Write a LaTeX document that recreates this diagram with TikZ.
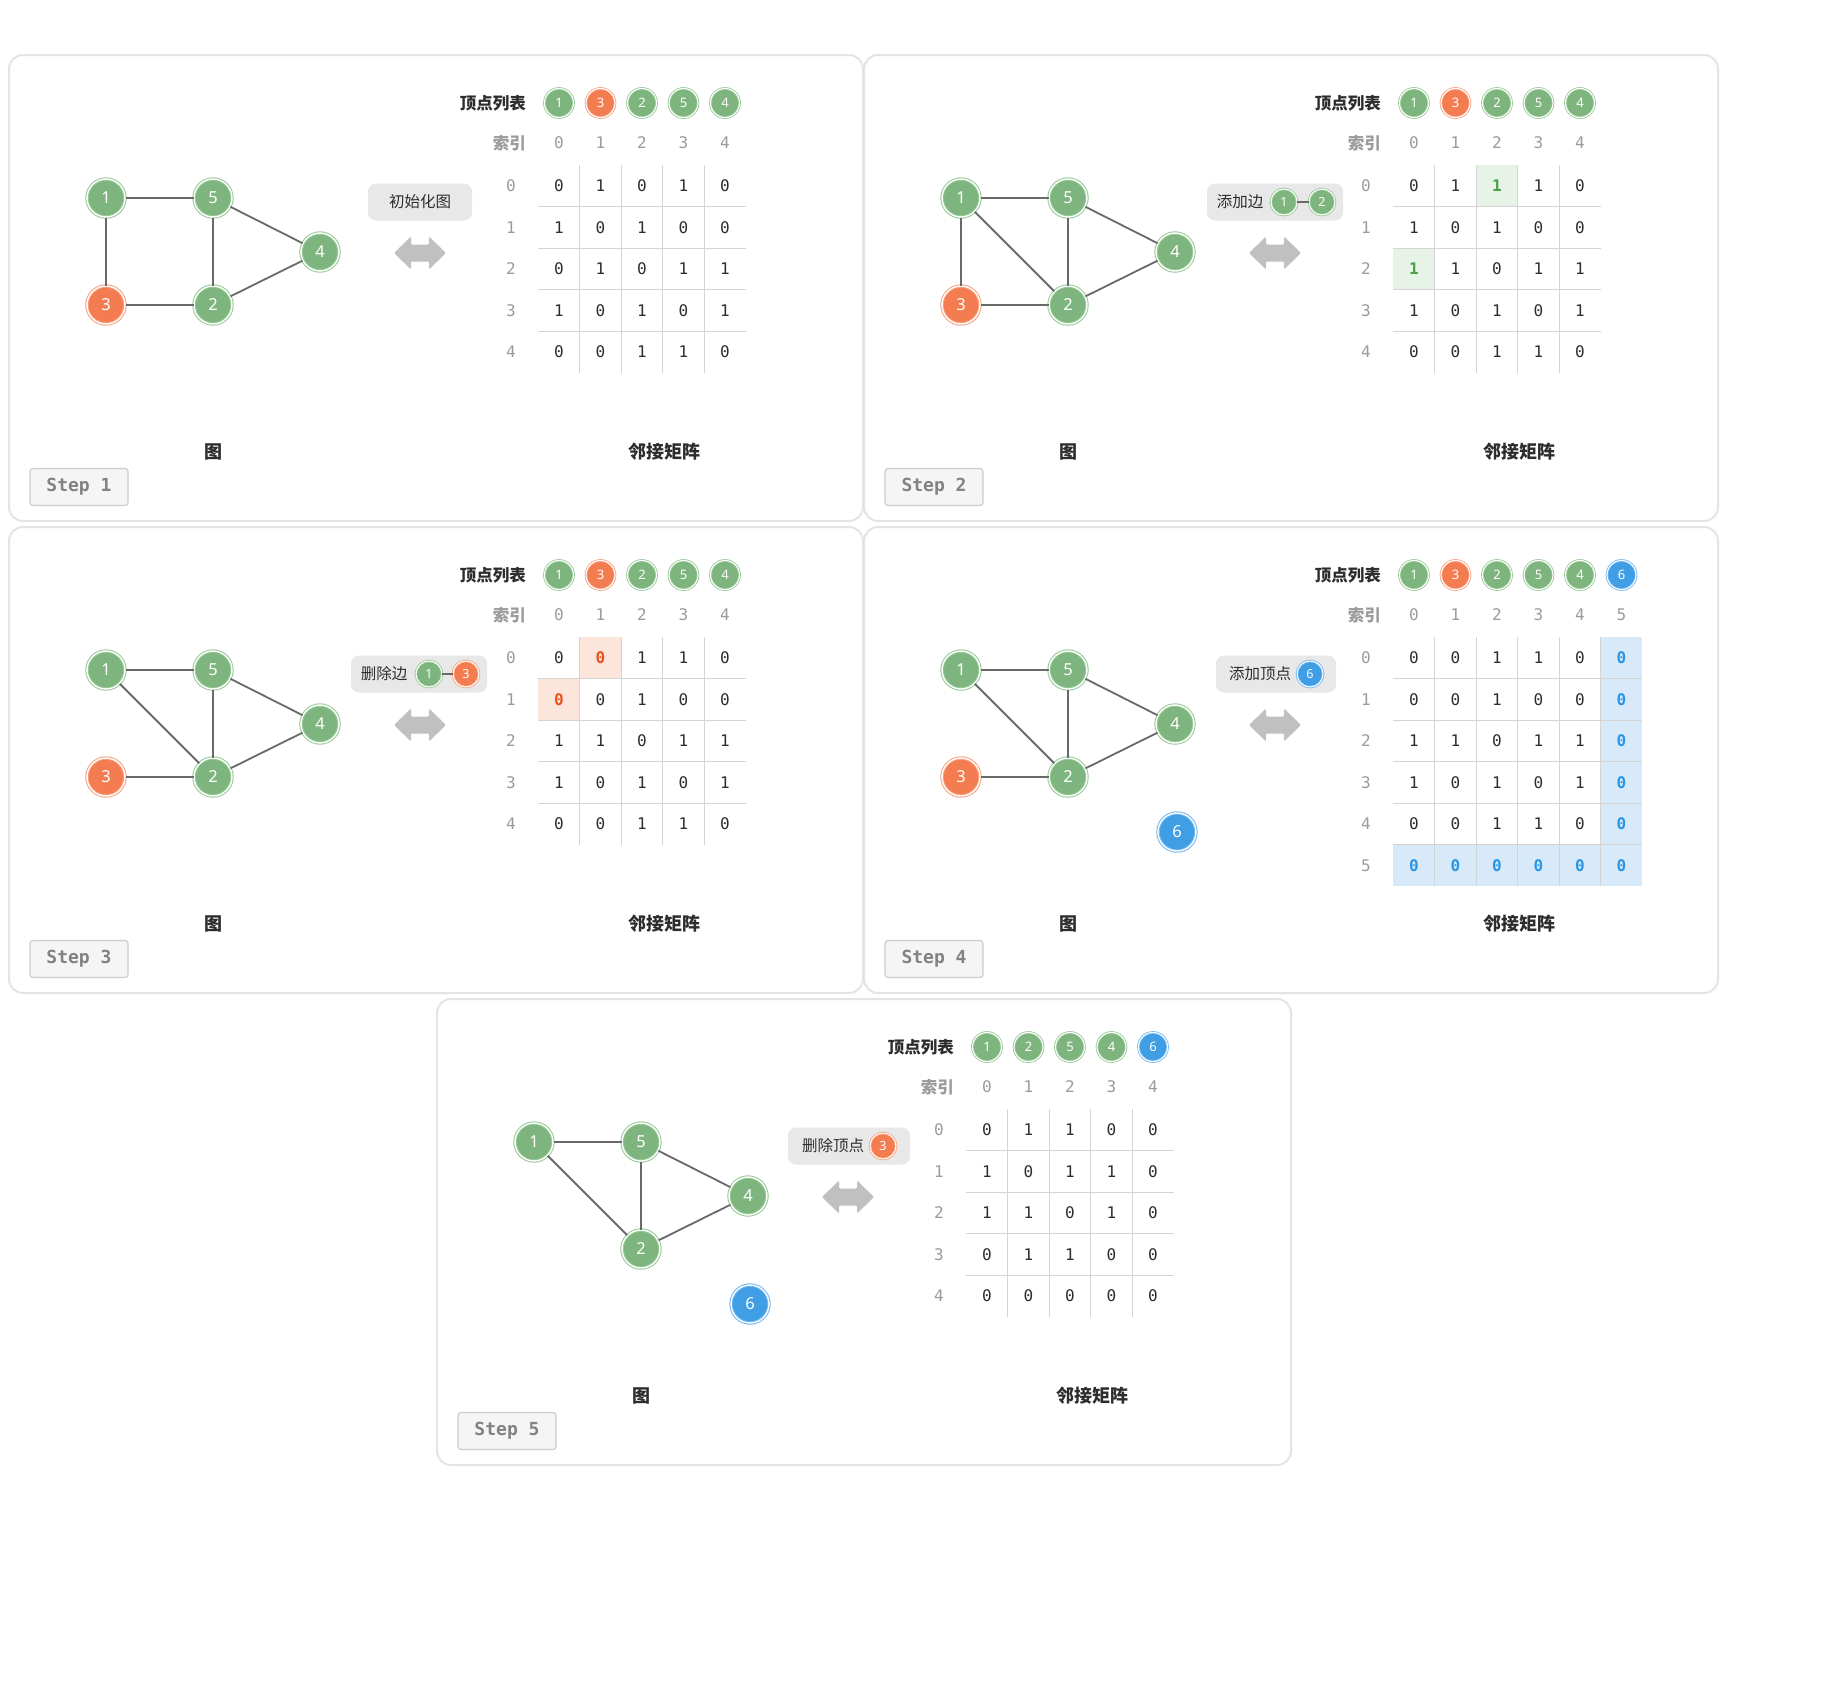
\documentclass[tikz,border=0pt]{standalone}
\usepackage{fontspec}
\setmainfont{Noto Sans}
\newfontfamily\cjk{Noto Sans CJK SC}
\newfontfamily\mono{DejaVu Sans Mono}
\definecolor{gfill}{RGB}{126,181,126}
\definecolor{gring}{RGB}{150,200,150}
\definecolor{ofill}{RGB}{243,124,80}
\definecolor{oring}{RGB}{248,160,125}
\definecolor{bfill}{RGB}{64,158,228}
\definecolor{bring}{RGB}{110,182,240}
\definecolor{edgegray}{RGB}{105,105,105}
\definecolor{framegray}{RGB}{228,228,228}
\definecolor{bubblegray}{RGB}{232,232,232}
\definecolor{arrowgray}{RGB}{192,192,192}
\definecolor{gridgray}{RGB}{212,212,212}
\definecolor{idxgray}{RGB}{155,155,155}
\definecolor{darktext}{RGB}{45,45,45}
\definecolor{hgbg}{RGB}{232,243,232}
\definecolor{hgtext}{RGB}{72,160,72}
\definecolor{hobg}{RGB}{252,230,220}
\definecolor{hotext}{RGB}{232,84,30}
\definecolor{hbbg}{RGB}{216,234,249}
\definecolor{hbtext}{RGB}{40,150,230}
\definecolor{stepfill}{RGB}{245,245,245}
\definecolor{stepdraw}{RGB}{205,205,205}
\definecolor{steptext}{RGB}{130,130,130}
\newcommand\hgt[1]{\textcolor{hgtext}{\bfseries #1}}
\newcommand\hot[1]{\textcolor{hotext}{\bfseries #1}}
\newcommand\hbt[1]{\textcolor{hbtext}{\bfseries #1}}
\tikzset{
  panelframe/.style={draw=framegray, line width=2pt, rounded corners=14pt},
  gnode/.style={circle, minimum size=38pt, inner sep=0pt, fill=#1fill, draw=#1ring,
    double=white, double distance=1.4pt, line width=1pt, text=white,
    font=\fontsize{16.5}{16.5}\selectfont},
  lnode/.style={circle, minimum size=29pt, inner sep=0pt, fill=#1fill, draw=#1ring,
    double=white, double distance=1.1pt, line width=0.8pt, text=white,
    font=\bfseries\fontsize{13}{13}\selectfont},
  snode/.style={circle, minimum size=26pt, inner sep=0pt, fill=#1fill, draw=#1ring,
    double=white, double distance=1pt, line width=0.8pt, text=white,
    font=\bfseries\fontsize{12.5}{12.5}\selectfont},
  gedge/.style={draw=edgegray, line width=1.8pt},
  sedge/.style={draw=edgegray, line width=1.4pt},
  biglabel/.style={font=\cjk\bfseries\fontsize{18}{18}\selectfont, text=darktext, inner sep=0pt},
  listlabel/.style={font=\cjk\bfseries\fontsize{16.5}{16.5}\selectfont, text=darktext, inner sep=0pt},
  idxlabel/.style={font=\cjk\bfseries\fontsize{16.5}{16.5}\selectfont, text=idxgray, inner sep=0pt},
  idx/.style={font=\mono\fontsize{16}{16}\selectfont, text=idxgray, inner sep=0pt},
  cell/.style={font=\mono\fontsize{16}{16}\selectfont, text=darktext, inner sep=0pt},
  gridline/.style={draw=gridgray, line width=1.2pt},
  stepbox/.style={draw=stepdraw, fill=stepfill, rounded corners=3pt, line width=1.2pt,
    minimum width=98pt, minimum height=37pt, inner sep=0pt, text=steptext,
    font=\mono\bfseries\fontsize{18}{18}\selectfont},
  bubblebox/.style={fill=bubblegray, rounded corners=8pt, minimum height=37pt, inner sep=0pt},
  bubbletext/.style={font=\cjk\fontsize{15.5}{15.5}\selectfont, text=darktext, inner sep=0pt},
}
\newcommand\mkpanel[2]{% #1 prefix, #2 step number
  \draw[panelframe] (0,0) rectangle (854,466);
  \node[biglabel] (#1-gl) at (204,397) {图};
  \node[biglabel] (#1-ml) at (655,397) {邻接矩阵};
  \node[stepbox] (#1-st) at (70,432) {Step #2};
  \node[listlabel, anchor=east] (#1-vl) at (517,48) {顶点列表};
  \node[idxlabel, anchor=east] (#1-il) at (517,88) {索引};
  \begin{scope}[shift={(411,198)}]
    \fill[arrowgray, rounded corners=1.2pt] (-26,0) -- (-9,-16.5) -- (-9,-8.5) -- (9,-8.5) -- (9,-16.5)
      -- (26,0) -- (9,16.5) -- (9,8.5) -- (-9,8.5) -- (-9,16.5) -- cycle;
  \end{scope}
}
\newcommand\mkmatrix[3]{% #1 prefix, #2 size, #3 rows
  \pgfmathtruncatemacro\mxlast{#2-1}
  \foreach \k in {0,...,\mxlast} {
    \node[idx] (#1-ci\k) at ({550+41.5*\k},88) {\k};
    \node[idx] (#1-ri\k) at (502,{131+41.5*\k}) {\k};
  }
  \foreach \k in {1,...,\mxlast} {
    \draw[gridline] ({529.25+41.5*\k},110.25) -- ({529.25+41.5*\k},{110.25+41.5*#2});
    \draw[gridline] (529.25,{110.25+41.5*\k}) -- ({529.25+41.5*#2},{110.25+41.5*\k});
  }
  \foreach \rw [count=\r from 0] in {#3} {
    \foreach \v [count=\c from 0] in \rw {
      \node[cell] (#1-c\r-\c) at ({550+41.5*\c},{131+41.5*\r}) {\v};
    }
  }
}
\newcommand\mklist[2]{% #1 prefix, #2 list color/text
  \foreach \cl/\t [count=\k from 0] in {#2} {
    \node[lnode=\cl] (#1-l\k) at ({550+41.5*\k},48) {\t};
  }
}
\newcommand\hcell[4]{\fill[#4] ({529.25+41.5*#3},{110.25+41.5*#2}) rectangle ++(41.5,41.5);}
\begin{document}
\begin{tikzpicture}[x=1pt, y=-1pt]
\useasboundingbox (0,0) rectangle (1836,1692);
\fill[white] (0,0) rectangle (1836,1692);

% ---------------- Step 1
\begin{scope}[shift={(9,55)}]
  \mkpanel{p1}{1}
  \node[bubblebox, minimum width=104pt] (p1-b) at (411,147) {};
  \node[bubbletext] (p1-bt) at (411,147) {初始化图};
  \mklist{p1}{g/1,o/3,g/2,g/5,g/4}
  \mkmatrix{p1}{5}{{0,1,0,1,0},{1,0,1,0,0},{0,1,0,1,1},{1,0,1,0,1},{0,0,1,1,0}}
  \node[gnode=g] (p1-n1) at (97,143) {1};
  \node[gnode=g] (p1-n5) at (204,143) {5};
  \node[gnode=g] (p1-n4) at (311,197) {4};
  \node[gnode=o] (p1-n3) at (97,250) {3};
  \node[gnode=g] (p1-n2) at (204,250) {2};
  \draw[gedge] (p1-n1) -- (p1-n5);
  \draw[gedge] (p1-n1) -- (p1-n3);
  \draw[gedge] (p1-n3) -- (p1-n2);
  \draw[gedge] (p1-n5) -- (p1-n2);
  \draw[gedge] (p1-n5) -- (p1-n4);
  \draw[gedge] (p1-n4) -- (p1-n2);
\end{scope}

% ---------------- Step 2
\begin{scope}[shift={(864,55)}]
  \mkpanel{p2}{2}
  \node[bubblebox, minimum width=136pt] (p2-b) at (411,147) {};
  \node[bubbletext] (p2-bt) at (376,147) {添加边};
  \node[snode=g] (p2-b1) at (420,147) {1};
  \node[snode=g] (p2-b2) at (458,147) {2};
  \draw[sedge] (p2-b1) -- (p2-b2);
  \mklist{p2}{g/1,o/3,g/2,g/5,g/4}
  \hcell{p2}{0}{2}{hgbg}
  \hcell{p2}{2}{0}{hgbg}
  \mkmatrix{p2}{5}{{0,1,\hgt{1},1,0},{1,0,1,0,0},{\hgt{1},1,0,1,1},{1,0,1,0,1},{0,0,1,1,0}}
  \node[gnode=g] (p2-n1) at (97,143) {1};
  \node[gnode=g] (p2-n5) at (204,143) {5};
  \node[gnode=g] (p2-n4) at (311,197) {4};
  \node[gnode=o] (p2-n3) at (97,250) {3};
  \node[gnode=g] (p2-n2) at (204,250) {2};
  \draw[gedge] (p2-n1) -- (p2-n5);
  \draw[gedge] (p2-n1) -- (p2-n3);
  \draw[gedge] (p2-n1) -- (p2-n2);
  \draw[gedge] (p2-n3) -- (p2-n2);
  \draw[gedge] (p2-n5) -- (p2-n2);
  \draw[gedge] (p2-n5) -- (p2-n4);
  \draw[gedge] (p2-n4) -- (p2-n2);
\end{scope}

% ---------------- Step 3
\begin{scope}[shift={(9,527)}]
  \mkpanel{p3}{3}
  \node[bubblebox, minimum width=136pt] (p3-b) at (410,147) {};
  \node[bubbletext] (p3-bt) at (375,147) {删除边};
  \node[snode=g] (p3-b1) at (420,147) {1};
  \node[snode=o] (p3-b2) at (457,147) {3};
  \draw[sedge] (p3-b1) -- (p3-b2);
  \mklist{p3}{g/1,o/3,g/2,g/5,g/4}
  \hcell{p3}{0}{1}{hobg}
  \hcell{p3}{1}{0}{hobg}
  \mkmatrix{p3}{5}{{0,\hot{0},1,1,0},{\hot{0},0,1,0,0},{1,1,0,1,1},{1,0,1,0,1},{0,0,1,1,0}}
  \node[gnode=g] (p3-n1) at (97,143) {1};
  \node[gnode=g] (p3-n5) at (204,143) {5};
  \node[gnode=g] (p3-n4) at (311,197) {4};
  \node[gnode=o] (p3-n3) at (97,250) {3};
  \node[gnode=g] (p3-n2) at (204,250) {2};
  \draw[gedge] (p3-n1) -- (p3-n5);
  \draw[gedge] (p3-n1) -- (p3-n2);
  \draw[gedge] (p3-n3) -- (p3-n2);
  \draw[gedge] (p3-n5) -- (p3-n2);
  \draw[gedge] (p3-n5) -- (p3-n4);
  \draw[gedge] (p3-n4) -- (p3-n2);
\end{scope}

% ---------------- Step 4
\begin{scope}[shift={(864,527)}]
  \mkpanel{p4}{4}
  \node[bubblebox, minimum width=120pt] (p4-b) at (412,147) {};
  \node[bubbletext] (p4-bt) at (396,147) {添加顶点};
  \node[snode=b] (p4-b1) at (446,147) {6};
  \mklist{p4}{g/1,o/3,g/2,g/5,g/4,b/6}
  \foreach \q in {0,...,5} {\hcell{p4}{\q}{5}{hbbg}}
  \foreach \q in {0,...,4} {\hcell{p4}{5}{\q}{hbbg}}
  \mkmatrix{p4}{6}{{0,0,1,1,0,\hbt{0}},{0,0,1,0,0,\hbt{0}},{1,1,0,1,1,\hbt{0}},{1,0,1,0,1,\hbt{0}},{0,0,1,1,0,\hbt{0}},{\hbt{0},\hbt{0},\hbt{0},\hbt{0},\hbt{0},\hbt{0}}}
  \node[gnode=g] (p4-n1) at (97,143) {1};
  \node[gnode=g] (p4-n5) at (204,143) {5};
  \node[gnode=g] (p4-n4) at (311,197) {4};
  \node[gnode=o] (p4-n3) at (97,250) {3};
  \node[gnode=g] (p4-n2) at (204,250) {2};
  \node[gnode=b] (p4-n6) at (313,305) {6};
  \draw[gedge] (p4-n1) -- (p4-n5);
  \draw[gedge] (p4-n1) -- (p4-n2);
  \draw[gedge] (p4-n3) -- (p4-n2);
  \draw[gedge] (p4-n5) -- (p4-n2);
  \draw[gedge] (p4-n5) -- (p4-n4);
  \draw[gedge] (p4-n4) -- (p4-n2);
\end{scope}

% ---------------- Step 5
\begin{scope}[shift={(437,999)}]
  \mkpanel{p5}{5}
  \node[bubblebox, minimum width=122pt] (p5-b) at (412,147) {};
  \node[bubbletext] (p5-bt) at (396,147) {删除顶点};
  \node[snode=o] (p5-b1) at (446,147) {3};
  \mklist{p5}{g/1,g/2,g/5,g/4,b/6}
  \mkmatrix{p5}{5}{{0,1,1,0,0},{1,0,1,1,0},{1,1,0,1,0},{0,1,1,0,0},{0,0,0,0,0}}
  \node[gnode=g] (p5-n1) at (97,143) {1};
  \node[gnode=g] (p5-n5) at (204,143) {5};
  \node[gnode=g] (p5-n4) at (311,197) {4};
  \node[gnode=g] (p5-n2) at (204,250) {2};
  \node[gnode=b] (p5-n6) at (313,305) {6};
  \draw[gedge] (p5-n1) -- (p5-n5);
  \draw[gedge] (p5-n1) -- (p5-n2);
  \draw[gedge] (p5-n5) -- (p5-n2);
  \draw[gedge] (p5-n5) -- (p5-n4);
  \draw[gedge] (p5-n4) -- (p5-n2);
\end{scope}
\end{tikzpicture}
\end{document}
